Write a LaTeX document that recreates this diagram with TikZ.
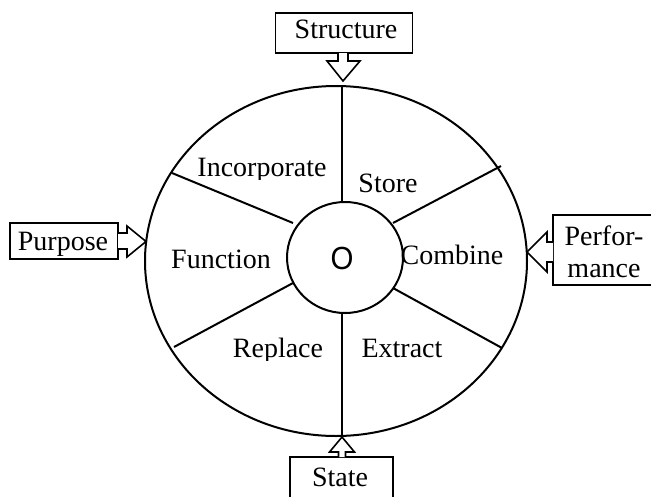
\documentclass[tikz,border=0pt]{standalone}
\usepackage{fontspec}
\setmainfont{Liberation Serif}
\newfontfamily\hubfont{Liberation Sans}
\usetikzlibrary{shapes.geometric}
\begin{document}
\begin{tikzpicture}[x=1pt,y=-1pt,
  every node/.style={font=\fontsize{28}{30}\selectfont},
  wheel/.style={draw, line width=2pt, ellipse, inner sep=0pt},
  spoke/.style={line width=2pt},
  labelbox/.style={draw, line width=1.6pt, inner sep=0pt},
  blockarrow/.style={draw, line width=1.6pt, fill=white, line join=miter},
  word/.style={inner sep=0pt, anchor=base}]
\useasboundingbox (0,0) rectangle (651,496);

% the wheel: rim and hub
\node[wheel, minimum width=382pt, minimum height=350pt] (rim) at (336,261) {};
\node[wheel, minimum width=116pt, minimum height=111pt] (hub) at (345,257.5) {};

% spokes between rim and hub
\coordinate (r1) at (342,86);   \coordinate (h1) at (342,202);
\coordinate (r2) at (342,436);  \coordinate (h2) at (342,313);
\coordinate (r3) at (172,173);  \coordinate (h3) at (293,223);
\coordinate (r4) at (174,347);  \coordinate (h4) at (293,283);
\coordinate (r5) at (501,166);  \coordinate (h5) at (393,223);
\coordinate (r6) at (502,348);  \coordinate (h6) at (393,288);
\foreach \i in {1,...,6} \draw[spoke] (r\i) -- (h\i);

% sector labels (the two upper-line labels lose the foot of their descenders)
\begin{scope}
  \clip (180,140) rectangle (340,179);
  \node[word] (inc) at (262,176) {Incorporate};
\end{scope}
\begin{scope}
  \clip (200,320) rectangle (340,360);
  \node[word] (rep) at (278,357) {Replace};
\end{scope}
\node[word] (sto)  at (388,192) {Store};
\node[word] (com)  at (452,264) {Combine};
\node[word] (fun)  at (221,268) {Function};
\node[word] (ext)  at (402,357) {Extract};
\node[inner sep=0pt, font=\hubfont\fontsize{32}{34}\selectfont, xscale=0.92] (core) at (342,258) {O};

% outside boxes
\node[labelbox, minimum width=137pt, minimum height=40pt] (structure) at (344,33) {};
\node[word] at (346,38) {Structure};
\node[labelbox, minimum width=108pt, minimum height=36pt] (purpose) at (64,241) {};
\node[word] at (63,250) {Purpose};
\node[labelbox, minimum width=110pt, minimum height=70pt] (perf) at (608,250) {};
\node[word] at (604,245) {Perfor-};
\node[word] at (604,277) {mance};
\node[labelbox, minimum width=103pt, minimum height=50pt] (state) at (341.5,482) {};
\node[word] at (340,486) {State};

% block arrows from the boxes onto the rim
\coordinate (tipN) at (343,81);
\coordinate (tipS) at (342,437);
\coordinate (tipW) at (146,241.5);
\coordinate (tipE) at (527,252);
\draw[blockarrow] (338,53) -- (338,61) -- (327,61) -- (tipN) -- (360,61) -- (348,61) -- (348,53);
\draw[blockarrow] (338.5,457) -- (338.5,452) -- (329.5,452) -- (tipS) -- (354.5,452) -- (345.5,452) -- (345.5,457);
\draw[blockarrow] (118,233) -- (127,233) -- (127,226) -- (tipW) -- (127,257) -- (127,249) -- (118,249);
\draw[blockarrow] (553,242) -- (547,242) -- (547,232) -- (tipE) -- (547,272) -- (547,262) -- (553,262);
\end{tikzpicture}
\end{document}
